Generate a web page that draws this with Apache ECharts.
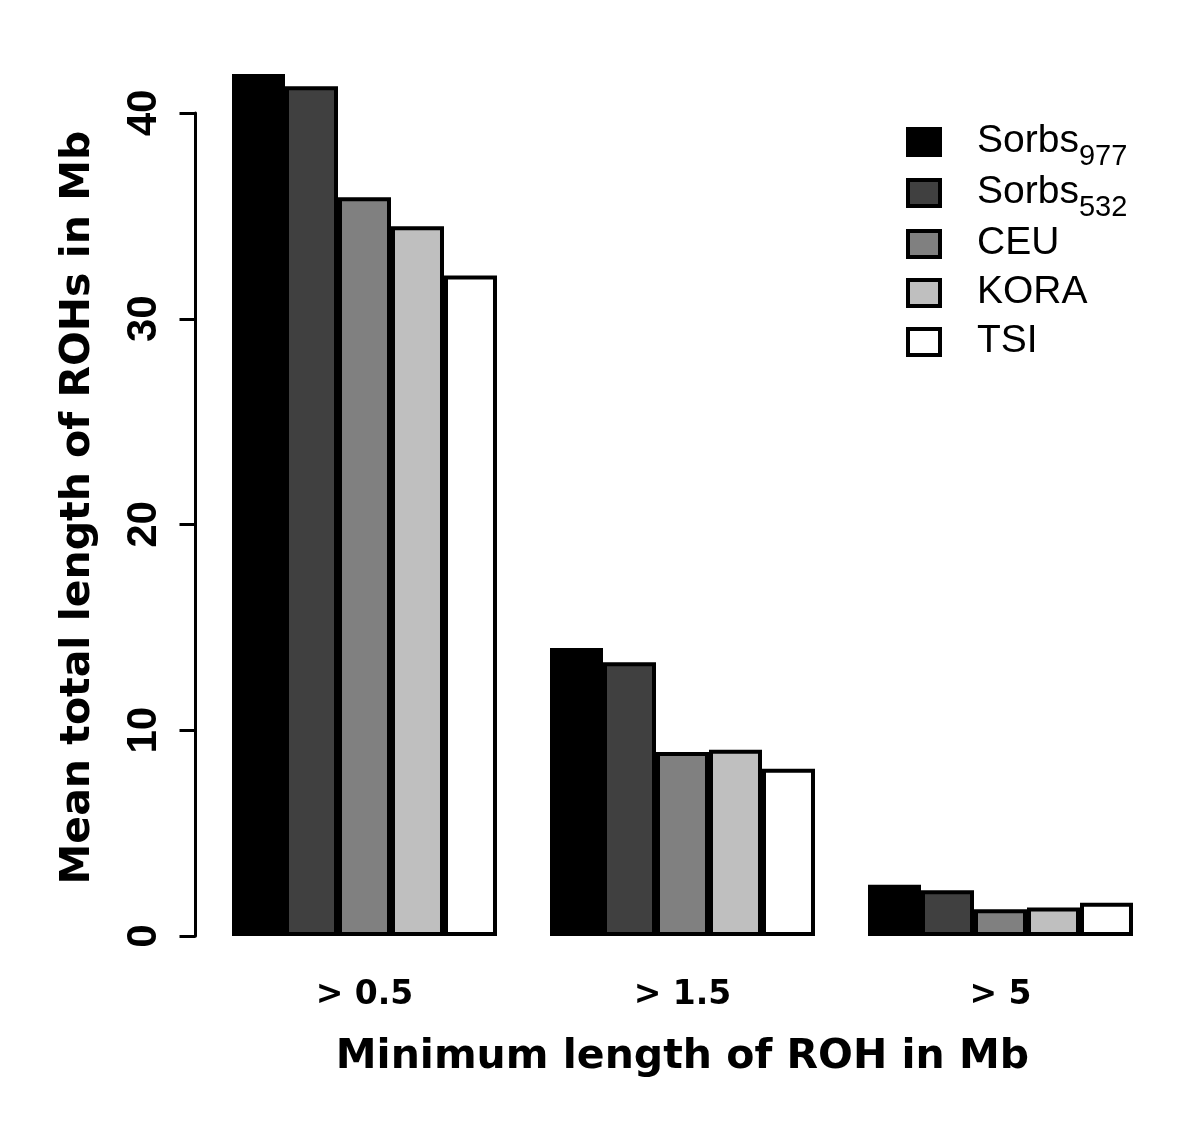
<!DOCTYPE html>
<html>
<head>
<meta charset="utf-8">
<script src="https://cdn.jsdelivr.net/npm/echarts@6/dist/echarts.min.js"></script>
<style>
  html, body { margin: 0; padding: 0; background: #fff; }
  #chart { width: 1200px; height: 1126px; }
</style>
</head>
<body>
<div id="chart"></div>
<script>
// categories on x
const categories = ['> 0.5', '> 1.5', '> 5']
// series names, legend base text and subscripts
const seriesNames = ['Sorbs977', 'Sorbs532', 'CEU', 'KORA', 'TSI']
const legendMain = ['Sorbs', 'Sorbs', 'CEU', 'KORA', 'TSI']
const legendSub = ['977', '532', '', '', '']
const fills = ['#000000', '#404040', '#808080', '#bfbfbf', '#ffffff']
// mean total length of ROHs (Mb)
const sorbs977 = [41.9, 14.0, 2.49]
const sorbs532 = [41.3, 13.3, 2.22]
const ceu = [35.9, 8.94, 1.30]
const kora = [34.5, 9.05, 1.38]
const tsi = [32.1, 8.13, 1.62]
const values = [sorbs977, sorbs532, ceu, kora, tsi]
// y ticks
const yMin = 0
const yMax = 40
const yStep = 10

const chart = echarts.init(document.getElementById('chart'))
const font = '"Liberation Sans", Arial, sans-serif'
const wide = '"DejaVu Sans", sans-serif'

chart.setOption({
  animation: false,
  textStyle: { fontFamily: font },
  grid: { left: 205.5, right: 40.5, top: 113, bottom: 190, containLabel: false },
  legend: {
    left: 901,
    top: 117,
    orient: 'vertical',
    icon: 'rect',
    itemWidth: 32,
    itemHeight: 26,
    itemGap: 2,
    data: seriesNames,
    itemStyle: { borderColor: '#000', borderWidth: 4 },
    formatter: name => {
      const i = seriesNames.indexOf(name)
      return legendSub[i]
        ? '{n|' + legendMain[i] + '}{s|' + legendSub[i] + '}'
        : '{n|' + legendMain[i] + '}'
    },
    textStyle: {
      fontFamily: font,
      color: '#000',
      rich: {
        n: { fontSize: 39, lineHeight: 40, fontFamily: font, color: '#000', padding: [0, 0, 8, 32], verticalAlign: 'top' },
        s: { fontSize: 29, lineHeight: 28, fontFamily: font, color: '#000', padding: [20, 0, 0, 0], verticalAlign: 'top' }
      }
    }
  },
  xAxis: {
    type: 'category',
    data: categories,
    axisLine: { show: false },
    axisTick: { show: false },
    axisLabel: { fontSize: 33, fontWeight: 'bold', color: '#000', margin: 43, fontFamily: wide },
    name: 'Minimum length of ROH in Mb',
    nameLocation: 'middle',
    nameGap: 101,
    nameTextStyle: { fontSize: 41, fontWeight: 'bold', color: '#000', fontFamily: wide }
  },
  yAxis: {
    type: 'value',
    min: yMin,
    max: yMax,
    interval: yStep,
    offset: 10,
    splitLine: { show: false },
    axisLine: { show: true, lineStyle: { color: '#000', width: 3 } },
    axisTick: { show: true, length: 16, lineStyle: { color: '#000', width: 3 } },
    axisLabel: { rotate: 90, fontSize: 42, fontWeight: 'bold', color: '#000', margin: 30, fontFamily: font },
    name: 'Mean total length of ROHs in Mb',
    nameLocation: 'middle',
    nameGap: 97,
    nameRotate: 90,
    nameTextStyle: { fontSize: 41, fontWeight: 'bold', color: '#000', fontFamily: wide, padding: [0, 0, 0, 34] }
  },
  series: seriesNames.map((name, i) => ({
    name: name,
    type: 'bar',
    data: values[i],
    clip: false,
    barGap: '0%',
    barCategoryGap: '16.67%',
    itemStyle: { color: fills[i], borderColor: '#000', borderWidth: 4 }
  }))
})
</script>
</body>
</html>
